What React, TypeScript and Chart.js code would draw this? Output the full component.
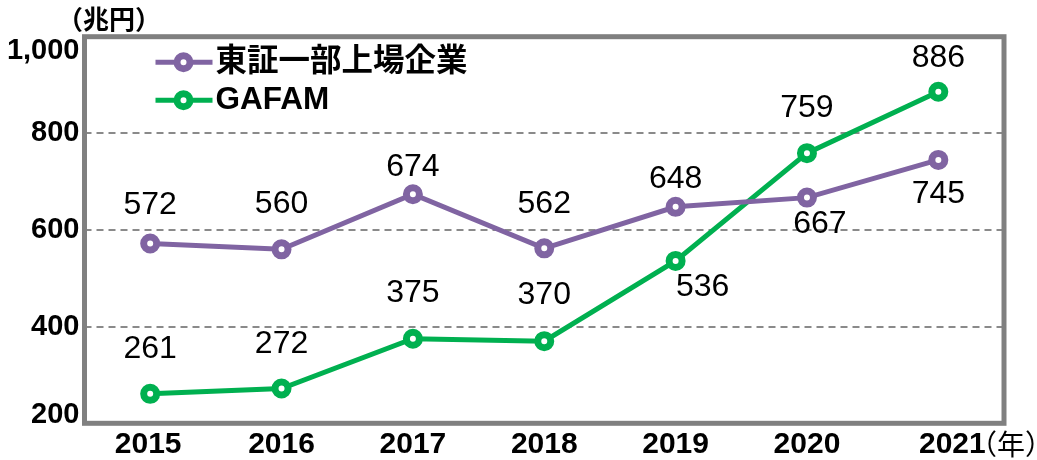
import React, { useEffect, useRef } from "react";
import { Chart, registerables } from "chart.js";

Chart.register(...registerables);

const categories = ["2015", "2016", "2017", "2018", "2019", "2020", "2021"];
const tseValues = [572, 560, 674, 562, 648, 667, 745];
const gafamValues = [261, 272, 375, 370, 536, 759, 886];
const yTickValues = [200, 400, 600, 800, 1000];
const yTickLabels = ["200", "400", "600", "800", "1,000"];
const seriesNames = ["東証一部上場企業", "GAFAM"];
const yUnit = "（兆円）";
const xUnit = "（年）";

const PURPLE = "#8064A2";
const GREEN = "#00B050";
const FONT = "'Liberation Sans', 'Noto Sans CJK JP', sans-serif";
const CJK = "'Noto Sans CJK JP', 'Liberation Sans', sans-serif";

// label placement relative to each point (style only)
const tseLabelOffsets = [[0, -38], [0, -45], [0, -27], [0, -44], [0, -28], [13, 27], [0, 34]];
const gafamLabelOffsets = [[0, -45], [0, -44], [0, -46], [0, -46], [27, 26], [0, -45], [0, -34]];
const labelOffsets = [tseLabelOffsets, gafamLabelOffsets];
const xLabelShift = [-2, 0, 0, 0, 0, 0, 14];
const seriesColors = [PURPLE, GREEN];

const decorPlugin = {
  id: "decor",
  beforeDatasetsDraw(chart: any) {
    const { ctx, chartArea: a, scales } = chart;
    const y = scales.y;
    ctx.save();
    ctx.strokeStyle = "#8a8a8a";
    ctx.lineWidth = 2;
    ctx.setLineDash([7, 5]);
    for (const v of yTickValues) {
      if (v === y.min || v === y.max) continue;
      const py = Math.round(y.getPixelForValue(v));
      ctx.beginPath();
      ctx.moveTo(a.left, py);
      ctx.lineTo(a.right, py);
      ctx.stroke();
    }
    ctx.setLineDash([]);
    ctx.strokeStyle = "#808080";
    ctx.lineWidth = 5;
    ctx.strokeRect(a.left, a.top, a.right - a.left, a.bottom - a.top);
    ctx.restore();
  },
  afterDatasetsDraw(chart: any) {
    const { ctx, chartArea: a, scales } = chart;
    const y = scales.y;
    const x = scales.x;
    ctx.save();
    // data labels
    ctx.fillStyle = "#000";
    ctx.font = `32px ${FONT}`;
    ctx.textAlign = "center";
    ctx.textBaseline = "middle";
    chart.data.datasets.forEach((ds: any, di: number) => {
      const meta = chart.getDatasetMeta(di);
      meta.data.forEach((pt: any, i: number) => {
        const [dx, dy] = labelOffsets[di][i];
        ctx.fillText(String(ds.data[i]), pt.x + dx, pt.y + dy);
      });
    });
    // x tick labels
    ctx.font = `bold 30px ${FONT}`;
    categories.forEach((c, i) => {
      ctx.fillText(c, x.getPixelForValue(i) + xLabelShift[i], a.bottom + 21);
    });
    // y tick labels
    ctx.font = `bold 29px ${FONT}`;
    ctx.textAlign = "right";
    yTickValues.forEach((v, i) => {
      let py = y.getPixelForValue(v);
      if (v === y.max) py += 14;
      if (v === y.min) py -= 8;
      ctx.fillText(yTickLabels[i], a.left - 5, py);
    });
    // units
    ctx.textAlign = "left";
    ctx.font = `bold 26px ${CJK}`;
    ctx.fillText(yUnit, 57, 19);
    ctx.font = `28px ${CJK}`;
    ctx.fillText(xUnit, 969, a.bottom + 21);
    // legend
    const items = [
      { y: a.top + 25.5, name: seriesNames[0], color: seriesColors[0] },
      { y: a.top + 63.5, name: seriesNames[1], color: seriesColors[1] },
    ];
    items.forEach((it) => {
      ctx.strokeStyle = it.color;
      ctx.lineWidth = 5;
      ctx.beginPath();
      ctx.moveTo(a.left + 71, it.y);
      ctx.lineTo(a.left + 128, it.y);
      ctx.stroke();
      ctx.lineWidth = 7;
      ctx.fillStyle = "#fff";
      ctx.beginPath();
      ctx.arc(a.left + 99, it.y, 6.5, 0, Math.PI * 2);
      ctx.fill();
      ctx.stroke();
      ctx.fillStyle = "#000";
      ctx.font = `bold 31.5px ${FONT}`;
      ctx.fillText(it.name, a.left + 131, it.y);
    });
    ctx.restore();
  },
};

export default function App() {
  const ref = useRef<HTMLCanvasElement | null>(null);
  useEffect(() => {
    if (!ref.current) return;
    const chart = new Chart(ref.current, {
      type: "line",
      data: {
        labels: categories,
        datasets: [
          {
            label: seriesNames[0],
            data: tseValues,
            borderColor: PURPLE,
            borderWidth: 5,
            pointRadius: 6.5,
            pointBorderWidth: 7,
            pointBackgroundColor: "#fff",
            pointBorderColor: PURPLE,
            tension: 0,
          },
          {
            label: seriesNames[1],
            data: gafamValues,
            borderColor: GREEN,
            borderWidth: 5,
            pointRadius: 6.5,
            pointBorderWidth: 7,
            pointBackgroundColor: "#fff",
            pointBorderColor: GREEN,
            tension: 0,
          },
        ],
      },
      options: {
        responsive: false,
        animation: false,
        layout: { padding: { top: 36.7, right: 33, left: 0, bottom: 0 } },
        plugins: { legend: { display: false }, tooltip: { enabled: false } },
        scales: {
          x: {
            type: "category",
            offset: true,
            grid: { display: false, drawTicks: false },
            border: { display: false },
            ticks: { display: false },
            afterFit: (s: any) => {
              s.height = 36.7;
            },
          },
          y: {
            min: 200,
            max: 1000,
            ticks: { display: false, stepSize: 200 },
            grid: { display: false, drawTicks: false },
            border: { display: false },
            afterFit: (s: any) => {
              s.width = 84.5;
            },
          },
        },
      },
      plugins: [decorPlugin],
    } as any);
    return () => chart.destroy();
  }, []);
  return (
    <div style={{ position: "fixed", left: 0, top: 0, width: 1037, height: 460, background: "#fff" }}>
      <canvas ref={ref} width={1037} height={460} style={{ display: "block" }} />
    </div>
  );
}
